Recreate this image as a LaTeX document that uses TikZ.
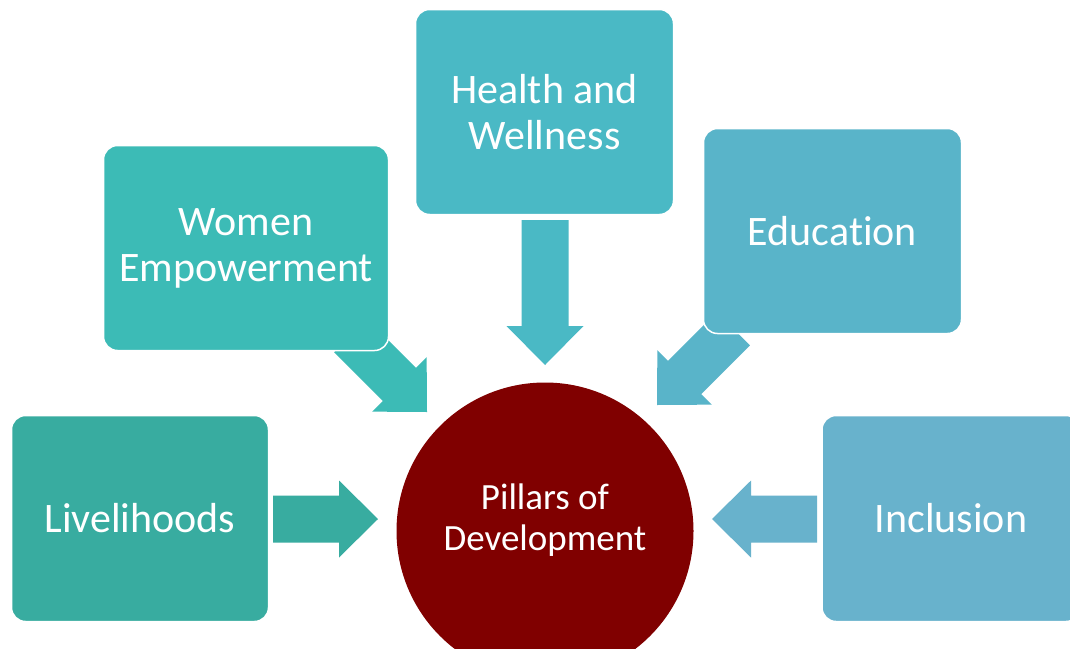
\documentclass[tikz,border=0pt]{standalone}
\usepackage{fontspec}
\setmainfont[Ligatures=NoCommon]{Carlito}
\definecolor{livc}{HTML}{38ACA0}
\definecolor{womc}{HTML}{3CBBB6}
\definecolor{heac}{HTML}{4AB9C5}
\definecolor{educ}{HTML}{59B4C9}
\definecolor{incc}{HTML}{68B2CC}
\definecolor{devc}{HTML}{800000}
\tikzset{
  pillar/.style={draw=white, line width=1.5pt, rounded corners=14pt, text=white,
    align=center, inner sep=0pt, font=\fontsize{42}{46}\selectfont},
}
% block arrow: tip at origin pointing +x, shaft length #1
\newcommand{\blockarr}[1]{%
  (0,0) -- (-39,-38.5) -- (-39,-23.5) -- (-#1,-23.5) -- (-#1,23.5) -- (-39,23.5) -- (-39,38.5) -- cycle}
\begin{document}
\begin{tikzpicture}[x=1pt,y=-1pt]
\useasboundingbox (0,0) rectangle (1070,648);
\clip (0,0) rectangle (1070,648);
\fill[white] (0,0) rectangle (1070,648);
% tips of the block arrows
\coordinate (tliv) at (378,519);
\coordinate (tinc) at (712,519);
\coordinate (thea) at (545,365);
\coordinate (twom) at (427,412);
\coordinate (tedu) at (657,405);
% arrows (drawn first, boxes cover their tails)
\begin{scope}[shift={(tliv)}] \fill[livc] \blockarr{105}; \end{scope}
\begin{scope}[shift={(tinc)},rotate=180] \fill[incc] \blockarr{105}; \end{scope}
\begin{scope}[shift={(thea)},rotate=-90] \fill[heac] \blockarr{145}; \end{scope}
\begin{scope}[shift={(twom)},rotate=-45] \fill[womc] \blockarr{108}; \end{scope}
\begin{scope}[shift={(tedu)},rotate=-135] \fill[educ] \blockarr{108}; \end{scope}
% boxes
\node[pillar, fill=livc, minimum width=257pt, minimum height=206pt] (liv) at (140,518.5) {Livelihoods};
\node[pillar, fill=womc, minimum width=285pt, minimum height=205pt] (wom) at (246,248) {\raisebox{-2pt}{\parbox{280pt}{\centering Women\\Empowerment}}};
\node[pillar, fill=heac, minimum width=258pt, minimum height=205pt] (hea) at (544.5,112) {\raisebox{1.5pt}{\parbox{250pt}{\centering Health and\\Wellness}}};
\node[pillar, fill=educ, minimum width=258pt, minimum height=205pt] (edu) at (832.5,231) {Education};
\node[pillar, fill=incc, minimum width=258pt, minimum height=206pt] (inc) at (951,518.5) {Inclusion};
% centre
\fill[devc] (545,531) circle (148.5);
\node[text=white, align=center, font=\fontsize{37}{41}\selectfont] (dev) at (545,520) {Pillars of\\Development};
\end{tikzpicture}
\end{document}
